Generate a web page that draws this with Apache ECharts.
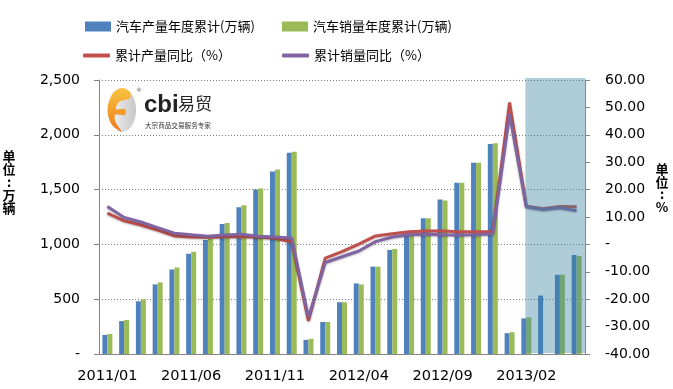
<!DOCTYPE html>
<html><head><meta charset="utf-8">
<script src="https://cdn.jsdelivr.net/npm/echarts@6/dist/echarts.min.js"></script>
<style>html,body{margin:0;padding:0;background:#fff}#c{width:673px;height:389px}</style>
</head><body><div id="c"></div>
<script>
const categories = ['2011/01','2011/02','2011/03','2011/04','2011/05','2011/06','2011/07','2011/08','2011/09','2011/10','2011/11','2011/12',
  '2012/01','2012/02','2012/03','2012/04','2012/05','2012/06','2012/07','2012/08','2012/09','2012/10','2012/11','2012/12',
  '2013/01','2013/02','2013/03','2013/04','2013/05'];
const productionCum = [174,300,481,635,771,915,1041,1186,1340,1502,1665,1836,
  129,292,472,644,797,950,1100,1238,1409,1563,1744,1915,
  190,325,533,723,903];
const salesCum = [183,310,500,653,789,933,1050,1195,1358,1511,1683,1845,
  138,292,472,635,797,959,1102,1238,1400,1563,1744,1924,
  199,334,null,723,894];
const productionYoY = [11.4,8.6,7.1,5.2,3.1,2.7,2.6,2.8,2.8,2.7,2.2,1.0,
  -27.9,-5.0,-2.6,0.1,3.1,3.9,4.6,4.9,4.9,4.6,4.6,4.6,
  51.8,13.9,13.0,13.8,13.7];
const salesYoY = [13.8,9.8,8.2,6.1,4.1,3.5,3.0,3.4,3.7,3.0,2.7,2.3,
  -26.7,-6.6,-4.5,-2.4,1.0,2.7,3.5,3.7,3.5,3.4,3.5,3.9,
  47.5,13.7,12.7,13.4,12.3];
const leftTicks = {min:0, max:2500, interval:500};
const rightTicks = {min:-40, max:60, interval:10};
const names = ['汽车产量年度累计(万辆)','汽车销量年度累计(万辆)','累计产量同比（%）','累计销量同比（%）'];
const shadeFrom = '2013/02';

const chart = echarts.init(document.getElementById('c'));
const axisGray = '#868686';
const cjk = '"Noto Sans CJK SC", sans-serif';
const num = '"DejaVu Sans", sans-serif';
const legendText = {fontFamily: cjk, fontSize: 13, color: '#000'};

const option = {
  animation: false,
  backgroundColor: '#fff',
  grid: {left: 99, right: 88, top: 80, bottom: 35, containLabel: false},
  legend: [
    {data:[names[0]], left:85, top:20, itemWidth:26, itemHeight:10, icon:'rect', textStyle:legendText, itemGap:0, padding:0},
    {data:[names[1]], left:282, top:20, itemWidth:26, itemHeight:10, icon:'rect', textStyle:legendText, itemGap:0, padding:0},
    {data:[names[2]], left:83, top:49, itemWidth:27, itemHeight:4, icon:'roundRect', textStyle:legendText, itemGap:0, padding:0},
    {data:[names[3]], left:282, top:49, itemWidth:27, itemHeight:4, icon:'roundRect', textStyle:legendText, itemGap:0, padding:0}
  ],
  xAxis: {
    type: 'category', data: categories, boundaryGap: true,
    axisLine: {lineStyle: {color: axisGray, width: 1}},
    axisTick: {interval: 4, length: 6, lineStyle: {color: axisGray}},
    axisLabel: {interval: 4, margin: 15, fontFamily: num, fontSize: 14.5, color: '#000'}
  },
  yAxis: [
    {type:'value', min:leftTicks.min, max:leftTicks.max, interval:leftTicks.interval, position:'left',
     axisLine:{show:true, lineStyle:{color:axisGray}},
     axisTick:{show:true, length:5, lineStyle:{color:axisGray}},
     splitLine:{show:true, lineStyle:{color:'#808080', type:[1,2], width:1}},
     axisLabel:{margin:19, fontFamily:num, fontSize:14, color:'#000',
       formatter: v => v === 0 ? '-' : v.toLocaleString('en-US')}},
    {type:'value', min:rightTicks.min, max:rightTicks.max, interval:rightTicks.interval, position:'right',
     axisLine:{show:true, lineStyle:{color:axisGray}},
     axisTick:{show:true, length:5, lineStyle:{color:axisGray}},
     splitLine:{show:false},
     axisLabel:{margin:20, fontFamily:num, fontSize:14, color:'#000',
       formatter: v => v === 0 ? '-' : v.toFixed(2)}}
  ],
  series: [
    {name:names[0], type:'bar', data:productionCum, barWidth:5, barGap:'0%', itemStyle:{color:'#4F81BD'}},
    {name:names[1], type:'bar', data:salesCum, barWidth:5, barGap:'0%', itemStyle:{color:'#9BBB59'}},
    {name:names[2], type:'line', yAxisIndex:1, data:productionYoY, symbol:'none', z:5,
     itemStyle:{color:'#C0504D'}, lineStyle:{color:'#C0504D', width:3, shadowColor:'rgba(0,0,0,0.25)', shadowBlur:2, shadowOffsetY:1}},
    {name:names[3], type:'line', yAxisIndex:1, data:salesYoY, symbol:'none', z:6,
     itemStyle:{color:'#8064A2'}, lineStyle:{color:'#8064A2', width:3, shadowColor:'rgba(0,0,0,0.25)', shadowBlur:2, shadowOffsetY:1}}
  ],
  graphic: [
    {type:'text', id:'lname', x:9, y:150, z:50,
     style:{text:'单\n位\n:\n万\n辆', font:'bold 13px "Noto Sans CJK SC"', lineHeight:13, fill:'#000', align:'center'}},
    {type:'text', id:'rname', x:662, y:163, z:50,
     style:{text:'单\n位\n:\n%', font:'bold 13px "Noto Sans CJK SC"', lineHeight:12.5, fill:'#000', align:'center'}},
    {type:'group', id:'logo', x:101, y:81, z:40, children:[
      {type:'rect', shape:{x:0,y:0,width:115,height:60}, style:{fill:'#fff'}},
      {type:'ellipse', shape:{cx:21,cy:29,rx:14,ry:22},
       style:{fill:new echarts.graphic.LinearGradient(0,0,1,0,[{offset:0,color:'#f4f4f4'},{offset:1,color:'#c8c8c8'}])}},
      {type:'polygon', shape:{smooth:0.3, points:[[21,7],[12,12],[7,24],[7,34],[11,44],[21,51],[15,42],[14,34],[24,34],[24,28],[15,28],[18,21],[29,17],[29,11]]},
       style:{fill:new echarts.graphic.LinearGradient(0,0,0,1,[{offset:0,color:'#f9c440'},{offset:1,color:'#ec7a1c'}])}},
      {type:'text', style:{text:'®', x:35, y:6, font:'6px "DejaVu Sans"', fill:'#666'}},
      {type:'text', style:{text:'cbi', x:43, y:12, font:'bold 24px "Liberation Sans"', fill:'#222'}},
      {type:'text', style:{text:'易贸', x:77, y:14, font:'17px "Noto Sans CJK SC"', fill:'#222'}},
      {type:'text', style:{text:'大宗商品交易服务专家', x:44, y:41, font:'6.6px "Noto Sans CJK SC"', fill:'#333'}}
    ]}
  ]
};
chart.setOption(option);

const x0 = chart.convertToPixel({xAxisIndex:0}, shadeFrom);
const gridRect = chart.getModel().getComponent('grid', 0).coordinateSystem.getRect();
const yTop = chart.convertToPixel({yAxisIndex:0}, leftTicks.max) - 2;
const yBot = chart.convertToPixel({yAxisIndex:0}, leftTicks.min) - 1;
chart.setOption({graphic: [
  {type:'rect', id:'shade', z:100, silent:true,
   shape:{x:x0 - 1, y:yTop, width:gridRect.x + gridRect.width - x0 + 1, height:yBot - yTop},
   style:{fill:'rgba(52,130,157,0.4)'}}
]});
</script>
</body></html>
